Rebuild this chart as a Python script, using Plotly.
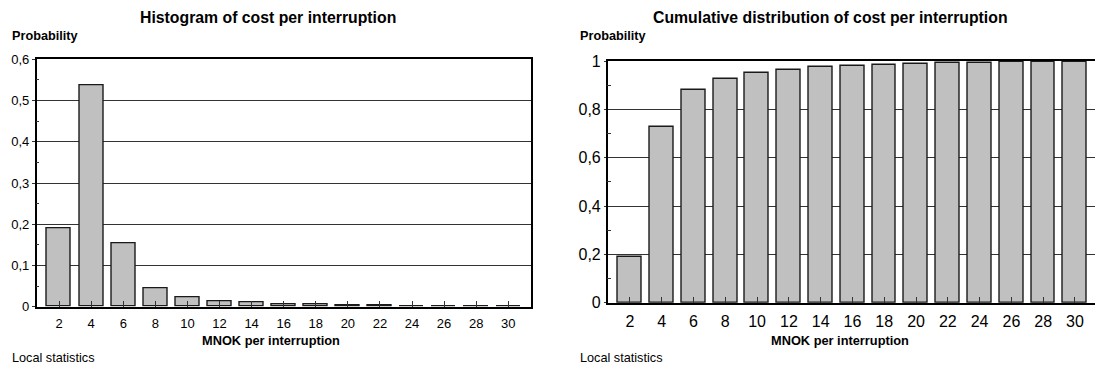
import plotly.graph_objects as go

# Cost classes (MNOK per interruption)
cost_classes = [2, 4, 6, 8, 10, 12, 14, 16, 18, 20, 22, 24, 26, 28, 30]

# Probability of each cost class
hist_prob = [0.190, 0.537, 0.153, 0.0435, 0.022, 0.013, 0.0105, 0.0065,
             0.005, 0.003, 0.0024, 0.0016, 0.0016, 0.001, 0.001]

# Cumulative probability up to each cost class
cum_prob = [0.190, 0.725, 0.880, 0.926, 0.950, 0.962, 0.974, 0.979,
            0.983, 0.986, 0.990, 0.992, 0.994, 0.994, 0.996]

left_yticks = [0, 0.1, 0.2, 0.3, 0.4, 0.5, 0.6]
left_ytext = ["0", "0,1", "0,2", "0,3", "0,4", "0,5", "0,6"]
right_yticks = [0, 0.2, 0.4, 0.6, 0.8, 1]
right_ytext = ["0", "0,2", "0,4", "0,6", "0,8", "1"]

W, H = 1095, 367
FONT = "Liberation Sans, Arial, sans-serif"


def px_x(v):
    return v / W


def px_y(v):
    return 1 - v / H


bar_style = dict(marker=dict(color="#c0c0c0", line=dict(color="#1a1a1a", width=1.4)),
                 width=1.5, showlegend=False, hoverinfo="x+y")

fig = go.Figure()
fig.add_trace(go.Bar(x=cost_classes, y=hist_prob, xaxis="x", yaxis="y", **bar_style))
fig.add_trace(go.Bar(x=cost_classes, y=cum_prob, xaxis="x2", yaxis="y2", **bar_style))

xcommon = dict(tickmode="array", tickvals=cost_classes, ticktext=[str(c) for c in cost_classes],
               ticks="inside", ticklen=6, tickcolor="#333", tickwidth=1,
               showgrid=False, zeroline=False, showline=True, linecolor="#000",
               linewidth=2, fixedrange=True, automargin=False, mirror=True)

fig.update_layout(
    template="none",
    width=W, height=H,
    margin=dict(l=0, r=0, t=0, b=0),
    paper_bgcolor="white", plot_bgcolor="white",
    bargap=0,
    font=dict(family=FONT, color="#000"),
    xaxis=dict(domain=[px_x(36.7), px_x(530.7)], range=[0.6, 31.4], anchor="y",
               tickfont=dict(size=13), ticklabelstandoff=4, **xcommon),
    yaxis=dict(domain=[px_y(306.7), px_y(59.3)], range=[0, 0.6], anchor="x",
               tickmode="array", tickvals=left_yticks, ticktext=left_ytext,
               ticks="outside", ticklen=3, tickcolor="#333", tickfont=dict(size=13),
               showgrid=True, gridcolor="#333333", gridwidth=1.2,
               zeroline=False, showline=True, linecolor="#000", linewidth=1.5, mirror=True,
               minor=dict(tickvals=[0.05, 0.15, 0.25, 0.35, 0.45, 0.55], ticks="inside",
                          ticklen=3, tickcolor="#333", showgrid=False),
               fixedrange=True, automargin=False),
    xaxis2=dict(domain=[px_x(607.7), 1.0], range=[0.6, 31.26], anchor="y2",
                tickfont=dict(size=16), ticklabelstandoff=3, **xcommon),
    yaxis2=dict(domain=[px_y(302.7), px_y(61)], range=[0, 1], anchor="x2",
                tickmode="array", tickvals=right_yticks, ticktext=right_ytext,
                ticks="outside", ticklen=2, tickcolor="#333", tickfont=dict(size=16),
                showgrid=True, gridcolor="#333333", gridwidth=1.2,
                zeroline=False, showline=True, linecolor="#000", linewidth=1.5, mirror=False,
                minor=dict(tickvals=[0.1, 0.3, 0.5, 0.7, 0.9], ticks="inside",
                           ticklen=4, tickcolor="#333", showgrid=False),
                fixedrange=True, automargin=False),
)


def label(text, x, y, size, bold=False, xanchor="center"):
    fig.add_annotation(text=f"<b>{text}</b>" if bold else text,
                       x=px_x(x), y=px_y(y), xref="paper", yref="paper",
                       xanchor=xanchor, yanchor="middle", showarrow=False,
                       font=dict(family=FONT, size=size, color="#000"))


# Left panel text
label("Histogram of cost per interruption", 268, 17, 15.8, bold=True)
label("Probability", 10, 36, 12.7, bold=True, xanchor="left")
label("MNOK per interruption", 271, 340.7, 12.8, bold=True)
label("Local statistics", 10, 357.5, 12.7, xanchor="left")

# Right panel text
label("Cumulative distribution of cost per interruption", 830, 17, 15.8, bold=True)
label("Probability", 577.7, 36, 12.7, bold=True, xanchor="left")
label("MNOK per interruption", 840, 340.7, 12.8, bold=True)
label("Local statistics", 577.7, 357.5, 12.7, xanchor="left")

fig.write_html("out.html")
